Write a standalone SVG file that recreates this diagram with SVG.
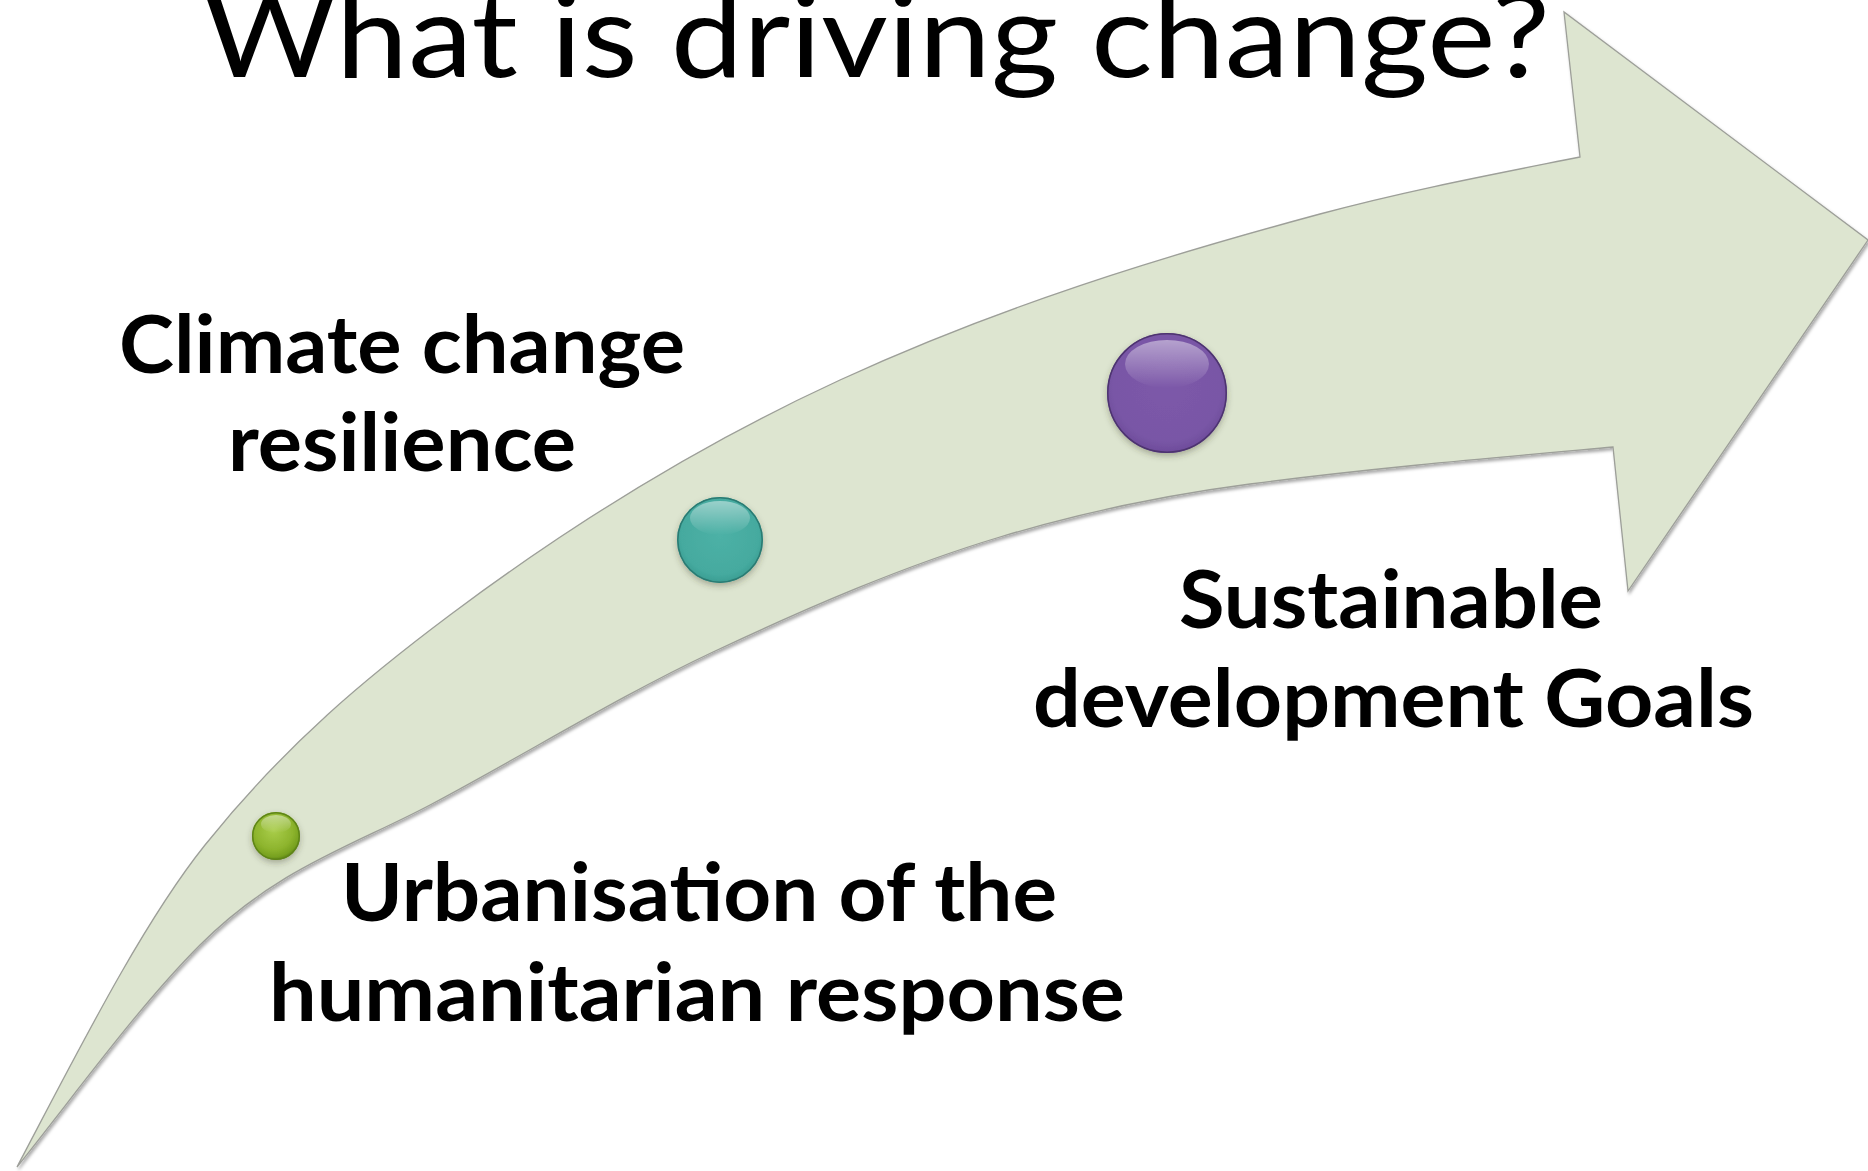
<svg xmlns="http://www.w3.org/2000/svg" width="1868" height="1171" viewBox="0 0 1868 1171">
  <style>
    .title { font-family: Lato, "Open Sans", "Liberation Sans", sans-serif; font-weight: 400; font-size: 116px; fill: #000000; }
    .label { font-family: Lato, "Open Sans", "Liberation Sans", sans-serif; font-weight: 700; font-size: 80px; fill: #000000; }
    .arrow-shape { fill: #dde5d0; stroke: #9d9f99; stroke-width: 1.3; stroke-linejoin: miter; }
    .bead-rim { fill: none; stroke-width: 1.5; }
  </style>
  <defs>
    <filter id="arrowShadow" x="-5%" y="-5%" width="110%" height="110%">
      <feDropShadow dx="1.5" dy="2.5" stdDeviation="1.6" flood-color="#000000" flood-opacity="0.33"/>
    </filter>
    <filter id="beadShadow" x="-30%" y="-30%" width="160%" height="160%">
      <feDropShadow dx="0" dy="3" stdDeviation="3" flood-color="#3a3a2a" flood-opacity="0.35"/>
    </filter>
    <radialGradient id="gradGreen" cx="0.45" cy="0.38" r="0.62">
      <stop offset="0" stop-color="#a9cd4a"/>
      <stop offset="0.65" stop-color="#8db42d"/>
      <stop offset="0.9" stop-color="#76a01f"/>
      <stop offset="1" stop-color="#5d8316"/>
    </radialGradient>
    <radialGradient id="gradTeal" cx="0.5" cy="0.45" r="0.6">
      <stop offset="0" stop-color="#4db1a6"/>
      <stop offset="0.75" stop-color="#45aa9f"/>
      <stop offset="0.92" stop-color="#3a9c91"/>
      <stop offset="1" stop-color="#2c7f76"/>
    </radialGradient>
    <radialGradient id="gradPurple" cx="0.5" cy="0.45" r="0.6">
      <stop offset="0" stop-color="#7c59a9"/>
      <stop offset="0.75" stop-color="#7956a6"/>
      <stop offset="0.92" stop-color="#6d4b9a"/>
      <stop offset="1" stop-color="#533a7a"/>
    </radialGradient>
    <linearGradient id="gradHighlight" x1="0" y1="0" x2="0" y2="1">
      <stop offset="0" stop-color="#ffffff" stop-opacity="0.45"/>
      <stop offset="1" stop-color="#ffffff" stop-opacity="0"/>
    </linearGradient>
  </defs>

  <rect x="0" y="0" width="1868" height="1171" fill="#ffffff"/>

  <g id="connectors">
    <path id="arrow" class="arrow-shape" filter="url(#arrowShadow)"
      d="M17,1167 C79.67,1047.93 142.33,923.33 205,845 C286.67,742.92 368.33,676.25 450,615 C580,517.5 710,439.8 840,380 C1000,306.4 1160,257.2 1320,214 C1406.67,190.6 1493.33,174.33 1580,157 L1564,12 L1868,240 L1628,591 L1613,447 C1492,457.89 1371,468.27 1250,484 C1166.67,494.83 1083.33,512 1000,537 C904.33,565.7 808.67,607.04 713,652 C618.67,696.34 524.33,755 430,805 C353.33,845.63 276.67,868.33 200,945 C139,1006 78,1090.75 17,1167 Z"/>
  </g>

  <g id="title">
    <text class="title" x="203" y="77" textLength="1347" lengthAdjust="spacingAndGlyphs">What is driving change?</text>
  </g>

  <g id="node-urbanisation">
    <circle cx="276" cy="836" r="24" fill="url(#gradGreen)" filter="url(#beadShadow)"/>
    <ellipse cx="276" cy="824" rx="15" ry="9" fill="url(#gradHighlight)"/>
    <circle class="bead-rim" cx="276" cy="836" r="23.3" stroke="#5f8518"/>
    <text class="label" x="341" y="921" textLength="716" lengthAdjust="spacingAndGlyphs">Urbanisation of the</text>
    <text class="label" x="269" y="1021" textLength="856" lengthAdjust="spacingAndGlyphs">humanitarian response</text>
  </g>

  <g id="node-climate">
    <circle cx="720" cy="540" r="43" fill="url(#gradTeal)" filter="url(#beadShadow)"/>
    <ellipse cx="720" cy="518" rx="30" ry="17" fill="url(#gradHighlight)"/>
    <circle class="bead-rim" cx="720" cy="540" r="42.2" stroke="#2b7a72"/>
    <text class="label" x="119" y="373" textLength="566" lengthAdjust="spacingAndGlyphs">Climate change</text>
    <text class="label" x="228" y="471" textLength="348" lengthAdjust="spacingAndGlyphs">resilience</text>
  </g>

  <g id="node-sdg">
    <circle cx="1167" cy="393" r="60" fill="url(#gradPurple)" filter="url(#beadShadow)"/>
    <ellipse cx="1167" cy="364" rx="42" ry="24" fill="url(#gradHighlight)"/>
    <circle class="bead-rim" cx="1167" cy="393" r="59.2" stroke="#4d346f"/>
    <text class="label" x="1179" y="628" textLength="424" lengthAdjust="spacingAndGlyphs">Sustainable</text>
    <text class="label" x="1033" y="727" textLength="721" lengthAdjust="spacingAndGlyphs">development Goals</text>
  </g>
</svg>
